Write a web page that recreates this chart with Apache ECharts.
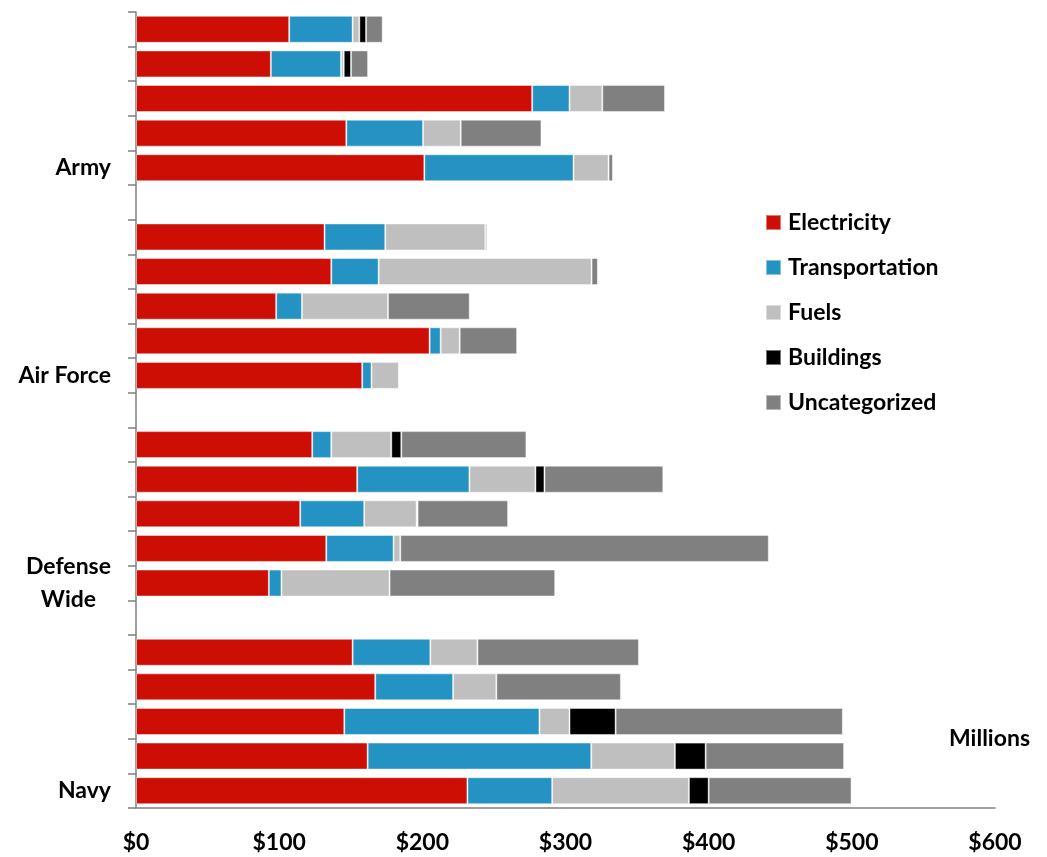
<!DOCTYPE html>
<html>
<head>
<meta charset="utf-8">
<script src="https://cdn.jsdelivr.net/npm/echarts@6/dist/echarts.min.js"></script>
<style>
html,body{margin:0;padding:0;background:#fff;}
#chart{width:1047px;height:857px;}
</style>
</head>
<body>
<div id="chart"></div>
<script>
// Category slots (top to bottom); empty slots separate the groups
var categories = ['A1','A2','A3','A4','A5','g1','F1','F2','F3','F4','F5','g2','D1','D2','D3','D4','D5','g3','N1','N2','N3','N4','N5'];
var categoryLabels = ['','','','','Army','','','','','','Air Force','','','','','','Defense\nWide','','','','','','Navy'];
var seriesNames = ['Electricity','Transportation','Fuels','Buildings','Uncategorized'];
var xTicks = [0,100,200,300,400,500,600];

var electricity    = [107.0, 94.2, 276.7, 146.9, 201.4, null, 131.7, 136.4, 97.9, 205.1, 158.0, null, 123.1, 154.5, 114.7, 132.9, 92.8, null, 151.3, 167.1, 145.5, 161.8, 231.5];
var transportation = [44.3, 49.0, 26.1, 53.6, 104.2, null, 42.4, 33.1, 18.0, 7.7, 6.5, null, 13.3, 78.4, 44.7, 47.0, 8.8, null, 54.3, 54.4, 136.3, 156.2, 59.2];
var fuels          = [4.7, 1.9, 22.9, 26.3, 24.5, null, 69.9, 148.7, 60.1, 13.3, 19.1, null, 41.9, 46.1, 36.6, 4.7, 75.5, null, 32.9, 30.2, 21.0, 58.4, 95.5];
var buildings      = [4.7, 5.1, null, null, null, null, null, null, null, null, null, null, 7.0, 6.3, 0.7, null, null, null, null, null, 32.2, 21.5, 13.8];
var uncategorized  = [11.6, 11.9, 43.8, 56.4, 3.0, null, 1.2, 4.4, 57.1, 40.1, null, null, 87.4, 83.0, 63.2, 257.4, 115.7, null, 112.8, 87.0, 158.7, 96.7, 99.8];

var colors = ['#CC0E04','#2493C4','#BFBFBF','#000000','#808080'];
var seriesData = [electricity, transportation, fuels, buildings, uncategorized];

var FONT = 'Lato, "Open Sans", sans-serif';
var FS = 23;
var chart = echarts.init(document.getElementById('chart'), null, {renderer:'canvas'});

var series = seriesNames.map(function(name, i){
  return {
    name: name,
    type: 'bar',
    stack: 'total',
    barCategoryGap: '22%',
    data: seriesData[i],
    itemStyle: {color: colors[i], borderColor: 'rgba(255,255,255,0.45)', borderWidth: 1},
    emphasis: {disabled: true},
    animation: false
  };
});

chart.setOption({
  animation: false,
  backgroundColor: '#ffffff',
  grid: {left: 136, right: 52, top: 12, bottom: 49, containLabel: false},
  legend: {
    orient: 'vertical',
    left: 765,
    top: 211,
    padding: 0,
    itemWidth: 15,
    itemHeight: 15,
    itemGap: 22,
    icon: 'rect',
    data: seriesNames,
    selectedMode: false,
    textStyle: {fontFamily: FONT, fontWeight: 'bold', fontSize: FS, color: '#000', padding: [0,0,0,2]}
  },
  xAxis: {
    type: 'value',
    min: xTicks[0],
    max: xTicks[xTicks.length-1],
    interval: xTicks[1]-xTicks[0],
    splitLine: {show: false},
    axisTick: {show: false},
    axisLine: {show: true, lineStyle: {color: '#7f7f7f', width: 1.5}},
    axisLabel: {
      margin: 23,
      fontFamily: FONT, fontWeight: 'bold', fontSize: FS, color: '#000',
      formatter: function(v){ return '$' + v; }
    }
  },
  yAxis: {
    type: 'category',
    inverse: true,
    data: categories,
    axisLine: {show: true, onZero: false, lineStyle: {color: '#7f7f7f', width: 1.5}},
    axisTick: {show: true, length: 8, interval: 0, lineStyle: {color: '#7f7f7f', width: 1.5}},
    axisLabel: {
      interval: 0,
      margin: 25,
      formatter: function(v, idx){
        var s = categoryLabels[idx];
        if (!s) return '';
        return s.split('\n').map(function(p){ return '{c|' + p + '}'; }).join('\n');
      },
      rich: {
        c: {fontFamily: FONT, fontWeight: 'bold', fontSize: FS, color: '#000', align: 'center', lineHeight: 33}
      }
    }
  },
  graphic: [{
    type: 'text',
    right: 17,
    top: 727,
    style: {text: 'Millions', fontFamily: FONT, fontWeight: 'bold', fontSize: FS, fill: '#000'}
  }],
  series: series
});
</script>
</body>
</html>
